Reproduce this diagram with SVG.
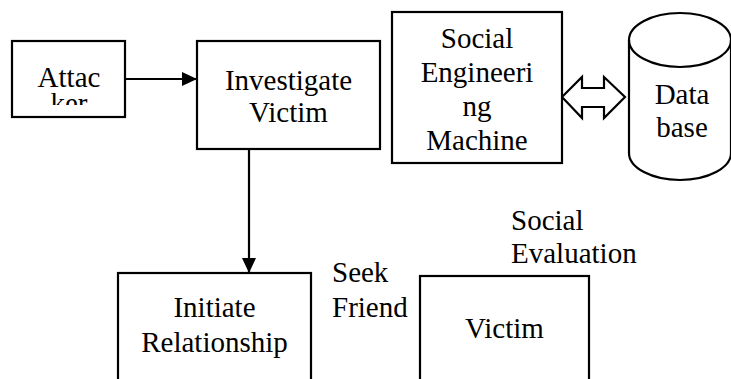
<svg xmlns="http://www.w3.org/2000/svg" width="731" height="379" viewBox="0 0 731 379">
<style>
.box{fill:#fff;stroke:#000;stroke-width:2.2}
.t{font-family:'Liberation Serif','Times New Roman',serif;font-size:29px;fill:#000}
.c{text-anchor:middle}
.ln{stroke:#000;stroke-width:2.2;fill:none}
</style>
<defs>
<marker id="ah" markerUnits="userSpaceOnUse" markerWidth="16" markerHeight="16" viewBox="0 0 16 16" refX="15" refY="8" orient="auto">
<path d="M0,1 L15,8 L0,15 Z" fill="#000"/>
</marker>
<clipPath id="attClip"><rect x="13" y="42" width="111" height="63"/></clipPath>
</defs>
<rect width="731" height="379" fill="#fff"/>
<g id="connectors">
<line class="ln" x1="125" y1="79" x2="197" y2="79" marker-end="url(#ah)"/>
<line class="ln" x1="249" y1="149" x2="249" y2="273" marker-end="url(#ah)"/>
<polygon class="box" points="562,97 582,77 582,88 604,88 604,77 625,97 604,118 604,107 582,107 582,118"/>
</g>
<g id="attacker">
<rect class="box" x="12" y="41" width="113" height="76"/>
<g clip-path="url(#attClip)">
<text class="t c" x="69" y="87">Attac</text>
<text class="t c" x="69" y="113">ker</text>
</g>
</g>
<g id="investigate">
<rect class="box" x="197" y="41" width="183" height="108"/>
<text class="t c" x="288.5" y="90">Investigate</text>
<text class="t c" x="288.5" y="122">Victim</text>
</g>
<g id="sem">
<rect class="box" x="392" y="12" width="170" height="151"/>
<text class="t c" x="477" y="48">Social</text>
<text class="t c" x="477" y="82">Engineeri</text>
<text class="t c" x="477" y="116">ng</text>
<text class="t c" x="477" y="150">Machine</text>
</g>
<g id="database">
<path class="box" d="M629,40 L629,153 A51,27 0 0 0 731,153 L731,40 A51,27 0 0 0 629,40 Z"/>
<path class="ln" d="M629,40 A51,27 0 0 0 731,40"/>
<text class="t c" x="682" y="104">Data</text>
<text class="t c" x="682" y="137">base</text>
</g>
<g id="initiate">
<rect class="box" x="118" y="273" width="193" height="120"/>
<text class="t c" x="214.5" y="317">Initiate</text>
<text class="t c" x="214.5" y="352">Relationship</text>
</g>
<g id="seek">
<text class="t" x="332" y="282">Seek</text>
<text class="t" x="332" y="317">Friend</text>
</g>
<g id="socialeval">
<text class="t" x="511" y="230">Social</text>
<text class="t" x="511" y="263">Evaluation</text>
</g>
<g id="victim">
<rect class="box" x="420" y="276" width="169" height="120"/>
<text class="t c" x="504.5" y="338">Victim</text>
</g>
</svg>
